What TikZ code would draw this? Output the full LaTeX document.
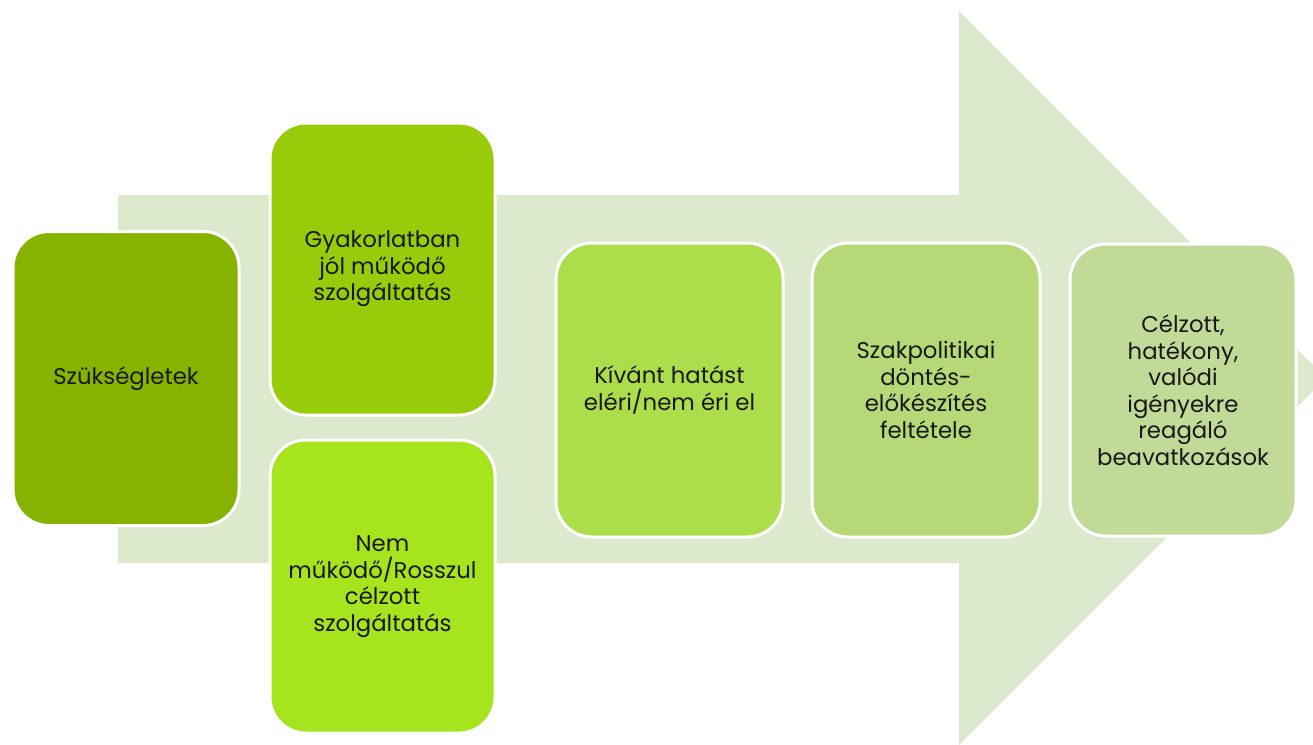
\documentclass[tikz,border=0pt]{standalone}
\usepackage{fontspec}
\setmainfont{Poppins}
\definecolor{arrowbg}{RGB}{221,233,205}
\definecolor{cA}{RGB}{134,179,0}
\definecolor{cB}{RGB}{150,204,10}
\definecolor{cC}{RGB}{166,228,29}
\definecolor{cD}{RGB}{172,221,74}
\definecolor{cE}{RGB}{181,217,118}
\definecolor{cF}{RGB}{193,218,152}
\tikzset{
  card/.style={draw=white, line width=3pt, rounded corners=36pt, align=center,
    inner sep=0pt, text=black!90, font=\fontsize{22.8}{26.5}\selectfont},
}
\begin{document}
\begin{tikzpicture}[x=1pt,y=-1pt]
\useasboundingbox (0,0) rectangle (1313,744);
\begin{scope}
\clip (0,0) rectangle (1313,744);
\fill[arrowbg] (118,195) -- (959,195) -- (959,11) -- (1326,378) -- (959,745) -- (959,563) -- (118,563) -- cycle;
\end{scope}
\node[card, fill=cA, minimum width=226pt, minimum height=294pt] (szuks) at (126,378.5) {Szükségletek};
\node[card, fill=cB, minimum width=225pt, minimum height=292pt] (gyak) at (382.5,269) {Gyakorlatban\\jól működő\\szolgáltatás};
\node[card, fill=cC, minimum width=225pt, minimum height=293pt] (nem) at (382.5,586.5) {Nem\\működő/Rosszul\\célzott\\szolgáltatás};
\node[card, fill=cD, minimum width=227pt, minimum height=294pt] (kivant) at (669.5,390) {Kívánt hatást\\eléri/nem éri el};
\node[card, fill=cE, minimum width=228pt, minimum height=294pt] (szak) at (926,390) {Szakpolitikai\\döntés-\\előkészítés\\feltétele};
\node[card, fill=cF, minimum width=226pt, minimum height=292pt] (celz) at (1183,390) {Célzott,\\hatékony,\\valódi\\igényekre\\reagáló\\beavatkozások};
\end{tikzpicture}
\end{document}
